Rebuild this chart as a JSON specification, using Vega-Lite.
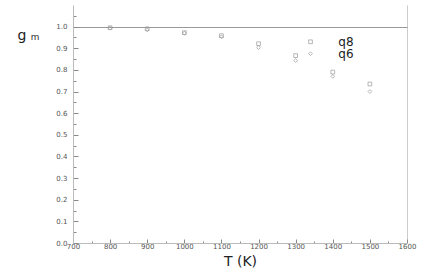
{
  "$schema": "https://vega.github.io/schema/vega-lite/v6.json",
  "width": 334,
  "height": 238,
  "autosize": "none",
  "padding": {"left": 73, "top": 5, "right": 29, "bottom": 30},
  "background": "white",
  "config": {
    "view": {"stroke": null},
    "font": "DejaVu Sans",
    "axis": {
      "domainColor": "#bbbbbb",
      "tickColor": "#888888",
      "labelColor": "#555555",
      "labelFont": "DejaVu Sans",
      "labelFontSize": 7,
      "labelOverlap": false,
      "labelSeparation": -1000,
      "titleFont": "DejaVu Sans",
      "titleFontWeight": "normal",
      "titleColor": "#222222"
    }
  },
  "datasets": {
    "pts": [
      {"T": 800, "g": 0.995, "series": "q8"},
      {"T": 900, "g": 0.99, "series": "q8"},
      {"T": 1000, "g": 0.972, "series": "q8"},
      {"T": 1100, "g": 0.958, "series": "q8"},
      {"T": 1200, "g": 0.921, "series": "q8"},
      {"T": 1300, "g": 0.866, "series": "q8"},
      {"T": 1340, "g": 0.93, "series": "q8"},
      {"T": 1400, "g": 0.79, "series": "q8"},
      {"T": 1500, "g": 0.735, "series": "q8"},
      {"T": 800, "g": 0.993, "series": "q6"},
      {"T": 900, "g": 0.985, "series": "q6"},
      {"T": 1000, "g": 0.97, "series": "q6"},
      {"T": 1100, "g": 0.953, "series": "q6"},
      {"T": 1200, "g": 0.903, "series": "q6"},
      {"T": 1300, "g": 0.843, "series": "q6"},
      {"T": 1340, "g": 0.875, "series": "q6"},
      {"T": 1400, "g": 0.77, "series": "q6"},
      {"T": 1500, "g": 0.70, "series": "q6"}
    ],
    "labels": [
      {"T": 1415, "g": 0.93, "label": "q8"},
      {"T": 1415, "g": 0.875, "label": "q6"}
    ]
  },
  "encoding": {
    "x": {
      "field": "T", "type": "quantitative",
      "scale": {"domain": [700, 1600], "nice": false, "zero": false},
      "axis": {
        "title": "T (K)",
        "titleFontSize": 14,
        "titlePadding": 3,
        "values": [700, 750, 800, 850, 900, 950, 1000, 1050, 1100, 1150, 1200, 1250, 1300, 1350, 1400, 1450, 1500, 1550, 1600],
        "format": "d",
        "labelExpr": "datum.value % 100 == 0 ? datum.label : ''",
        "tickSize": {"condition": {"test": "datum.value % 100 == 0", "value": -4}, "value": -2},
        "labelPadding": 3,
        "labelFlush": false,
        "labelOverlap": false,
        "labelSeparation": -1000,
        "grid": true,
        "gridColor": "#cccccc",
        "gridOpacity": {"condition": {"test": "datum.value == 1600", "value": 1}, "value": 0}
      }
    },
    "y": {
      "field": "g", "type": "quantitative",
      "scale": {"domain": [0, 1.1], "nice": false},
      "axis": {
        "title": "g ₘ",
        "titleAngle": 0,
        "titleFontSize": 14,
        "titleX": -56,
        "titleY": 34,
        "titleAlign": "left",
        "titleBaseline": "alphabetic",
        "values": [0, 0.05, 0.1, 0.15, 0.2, 0.25, 0.3, 0.35, 0.4, 0.45, 0.5, 0.55, 0.6, 0.65, 0.7, 0.75, 0.8, 0.85, 0.9, 0.95, 1.0, 1.05],
        "format": ".1f",
        "labelExpr": "(round(datum.value * 100) % 10 == 0) ? datum.label : ''",
        "tickSize": {"condition": {"test": "round(datum.value * 100) % 10 == 0", "value": -5}, "value": -3},
        "labelPadding": 11,
        "labelOverlap": false,
        "labelSeparation": -1000,
        "labelFlush": false,
        "grid": true,
        "gridColor": "#999999",
        "gridOpacity": {"condition": {"test": "round(datum.value * 100) == 100", "value": 1}, "value": 0}
      }
    }
  },
  "layer": [
    {
      "data": {"name": "pts"},
      "mark": {"type": "point", "filled": false, "strokeWidth": 0.7, "size": 14, "color": "#999999", "opacity": 1},
      "encoding": {
        "shape": {
          "field": "series", "type": "nominal",
          "scale": {"domain": ["q8", "q6"], "range": ["square", "diamond"]},
          "legend": null
        }
      }
    },
    {
      "data": {"name": "labels"},
      "mark": {"type": "text", "align": "left", "baseline": "middle", "fontSize": 12, "font": "DejaVu Sans", "color": "#222222"},
      "encoding": {
        "text": {"field": "label"}
      }
    }
  ]
}
